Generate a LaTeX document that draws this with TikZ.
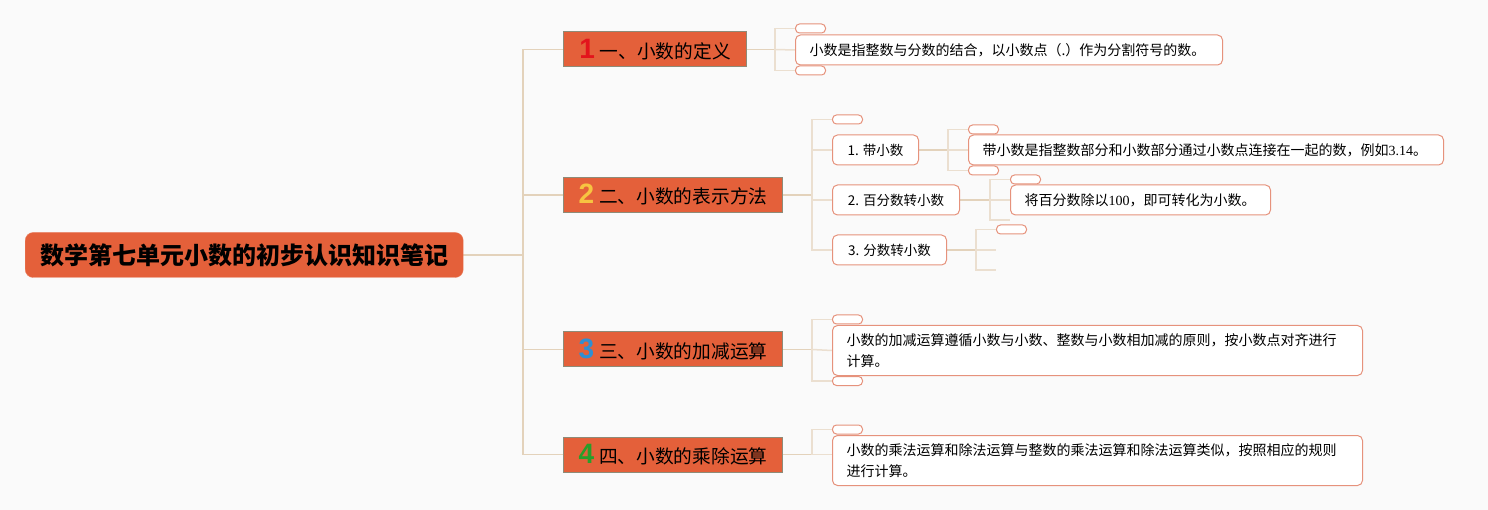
\documentclass[tikz,border=0pt]{standalone}
\usepackage{fontspec}
\setmainfont{Noto Sans CJK SC}
\newfontfamily\numserif{Liberation Serif}
\newfontfamily\digitfont{Liberation Sans}
\usetikzlibrary{backgrounds}
\definecolor{bgc}{HTML}{FAFAFA}
\definecolor{orangefill}{HTML}{E4603A}
\definecolor{lvlborder}{HTML}{8E8B78}
\definecolor{leafborder}{HTML}{E6927C}
\definecolor{trunkc}{HTML}{E3D2BB}
\definecolor{brackc}{HTML}{EBDFD0}
\definecolor{numred}{HTML}{E3141C}
\definecolor{numyellow}{HTML}{F7C441}
\definecolor{numblue}{HTML}{2F8FD2}
\definecolor{numgreen}{HTML}{2A9E2A}
\newcommand{\iconnum}[2]{{\color{#1}\digitfont\fontsize{28}{28}\selectfont\bfseries #2}\hspace{5pt}}
\begin{document}
\begin{tikzpicture}[x=1pt,y=-1pt,
  rootbox/.style={fill=orangefill, draw=orangefill!80!white, rounded corners=8pt, minimum height=45pt, inner xsep=0pt, font=\fontsize{24}{24}\selectfont\bfseries, text=black},
  lvlbox/.style={fill=orangefill, draw=lvlborder, line width=1pt, minimum height=35pt, inner xsep=0pt, font=\fontsize{18.7}{18.7}\selectfont, text=black},
  leafbox/.style={fill=white, draw=leafborder, line width=1pt, rounded corners=5pt, minimum height=30pt, inner xsep=14pt, font=\fontsize{14}{21}\selectfont, text=black, align=left},
  subbox/.style={fill=white, draw=leafborder, line width=1pt, rounded corners=5pt, minimum height=30pt, inner xsep=0pt, font=\fontsize{13.5}{16}\selectfont, text=black},
  pill/.style={fill=white, draw=leafborder, line width=1pt, rounded corners=4pt, minimum width=30pt, minimum height=9pt, inner sep=0pt},
  trunk/.style={draw=trunkc, line width=1.5pt},
  brack/.style={draw=brackc, line width=1.5pt}
]
\useasboundingbox (0,0) rectangle (1488,510);

% root
\node[rootbox, minimum width=438pt, anchor=west] (root) at (25,255) {数学第七单元小数的初步认识知识笔记};

% level 1
\node[lvlbox, minimum width=183pt, anchor=west] (n1) at (563,49.5) {\iconnum{numred}{1}一、小数的定义};
\node[lvlbox, minimum width=219pt, anchor=west] (n2) at (563,195) {\iconnum{numyellow}{2}二、小数的表示方法};
\node[lvlbox, minimum width=219pt, anchor=west] (n3) at (563,349.5) {\iconnum{numblue}{3}三、小数的加减运算};
\node[lvlbox, minimum width=219pt, anchor=west] (n4) at (563,454.5) {\iconnum{numgreen}{4}四、小数的乘除运算};

% section 1
\node[leafbox, text width=399pt, anchor=west] (t1) at (795,50) {小数是指整数与分数的结合，以小数点（.）作为分割符号的数。};
\node[pill, anchor=west] (p1a) at (795,28.5) {};
\node[pill, anchor=west] (p1b) at (795,70.5) {};

% section 2
\node[pill, anchor=west] (p2a) at (832,119.5) {};
\node[subbox, minimum width=86pt, anchor=west] (c1) at (832,150) {1. 带小数};
\node[subbox, minimum width=127pt, anchor=west] (c2) at (832,200) {2. 百分数转小数};
\node[subbox, minimum width=114pt, anchor=west] (c3) at (832,250) {3. 分数转小数};

\node[leafbox, text width=447pt, anchor=west] (t21) at (968,150) {带小数是指整数部分和小数部分通过小数点连接在一起的数，例如{\numserif 3.14}。};
\node[pill, anchor=west] (p21a) at (968,129.5) {};
\node[pill, anchor=west] (p21b) at (968,170.5) {};

\node[leafbox, text width=232pt, anchor=west] (t22) at (1010,200) {将百分数除以{\numserif 100}，即可转化为小数。};
\node[pill, anchor=west] (p22a) at (1010,179.5) {};
\coordinate (s22) at (1010,220);

\node[pill, anchor=west] (p23a) at (996,229.5) {};
\coordinate (s23a) at (996,250);
\coordinate (s23b) at (996,270);

% section 3
\node[leafbox, text width=502pt, minimum height=50pt, anchor=north west] (t3) at (832,325) {小数的加减运算遵循小数与小数、整数与小数相加减的原则，按小数点对齐进行\\计算。};
\node[pill, anchor=west] (p3a) at (832,319.5) {};
\node[pill, anchor=west] (p3b) at (832,381) {};

% section 4
\node[leafbox, text width=502pt, minimum height=50pt, anchor=north west] (t4) at (832,435) {小数的乘法运算和除法运算与整数的乘法运算和除法运算类似，按照相应的规则\\进行计算。};
\node[pill, anchor=west] (p4a) at (832,429.5) {};

% bracket points
\coordinate (tr) at (523,255);
\coordinate (b1) at (775,49.5);
\coordinate (b2) at (812,195);
\coordinate (b21) at (948,150);
\coordinate (b22) at (990,200);
\coordinate (b23) at (976,250);
\coordinate (b3) at (812,349.5);
\coordinate (b4) at (812,454.5);

\begin{scope}[on background layer]
\fill[bgc] (0,0) rectangle (1488,510);
\draw[trunk] (root.east) -- (tr);
\draw[trunk] (tr) |- (n1.west);
\draw[trunk] (tr) |- (n2.west);
\draw[trunk] (tr) |- (n3.west);
\draw[trunk] (tr) |- (n4.west);

\draw[trunk] (n1.east) -- (b1);
\draw[brack] (b1) |- (p1a.west);
\draw[brack] (b1) |- (p1b.west);
\draw[brack] (b1) -- (t1.west);

\draw[trunk] (n2.east) -- (b2);
\draw[brack] (b2) |- (p2a.west);
\draw[brack] (b2) |- (c1.west);
\draw[brack] (b2) |- (c2.west);
\draw[brack] (b2) |- (c3.west);

\draw[trunk] (c1.east) -- (b21);
\draw[brack] (b21) |- (p21a.west);
\draw[brack] (b21) |- (p21b.west);
\draw[brack] (b21) -- (t21.west);

\draw[trunk] (c2.east) -- (b22);
\draw[brack] (b22) |- (p22a.west);
\draw[brack] (b22) |- (s22);
\draw[brack] (b22) -- (t22.west);

\draw[trunk] (c3.east) -- (b23);
\draw[brack] (b23) |- (p23a.west);
\draw[brack] (b23) -- (s23a);
\draw[brack] (b23) |- (s23b);

\draw[trunk] (n3.east) -- (b3);
\draw[brack] (b3) |- (p3a.west);
\draw[brack] (b3) |- (p3b.west);
\draw[brack] (b3) -- (t3.west);

\draw[trunk] (n4.east) -- (b4);
\draw[brack] (b4) |- (p4a.west);
\draw[brack] (b4) -- (t4.west |- b4);
\end{scope}
\end{tikzpicture}
\end{document}
